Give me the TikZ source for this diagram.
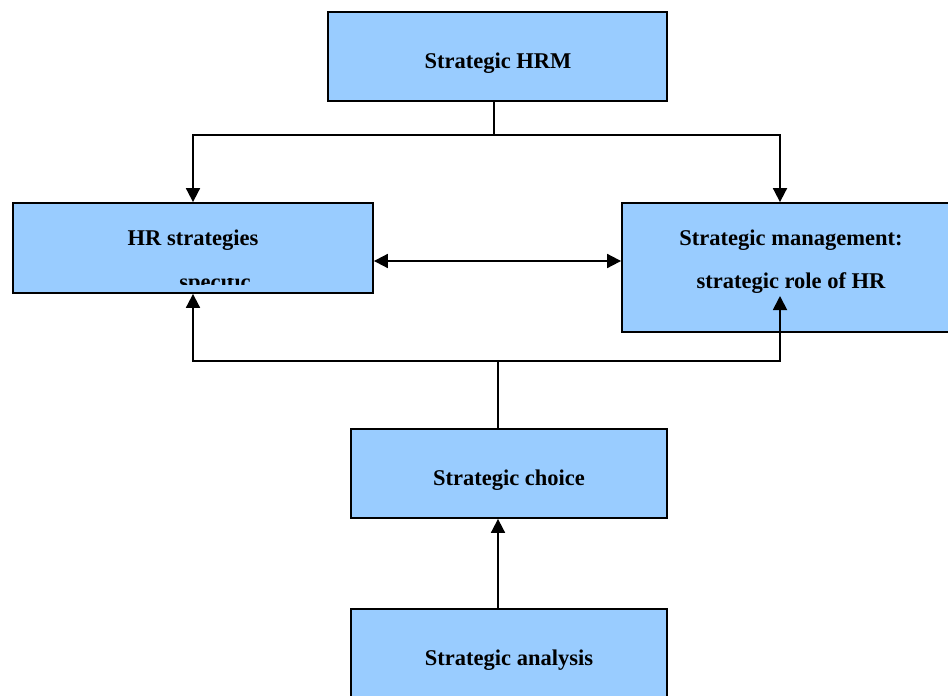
\documentclass[tikz,border=0pt]{standalone}
\usepackage{fontspec}
\setmainfont{Liberation Serif}
\usetikzlibrary{arrows.meta}
\definecolor{boxblue}{HTML}{99CCFF}
\begin{document}
\begin{tikzpicture}[x=1pt,y=-1pt,
  box/.style={draw=black, line width=1.8pt, fill=boxblue, inner sep=0pt},
  lbl/.style={anchor=base, inner sep=0pt, font=\fontsize{22.5}{27}\selectfont\bfseries},
  conn/.style={line width=1.8pt},
  arr/.style={conn, -{Triangle[length=14pt,width=14pt]}},
  darr/.style={conn, {Triangle[length=14pt,width=14pt]}-{Triangle[length=14pt,width=14pt]}}]
\useasboundingbox (0,0) rectangle (948,696);
% boxes
\node[box, minimum width=339pt, minimum height=89pt] (hrm) at (497.5,56.5) {};
\node[box, minimum width=360pt, minimum height=90pt] (hrs) at (193,248) {};
\node[box, minimum width=340pt, minimum height=129pt] (smg) at (792,267.5) {};
\node[box, minimum width=316pt, minimum height=89pt] (ch) at (509,473.5) {};
\node[box, minimum width=316pt, minimum height=101pt] (an) at (509,659.5) {};
% texts
\node[lbl] (thrm) at (498,68) {Strategic HRM};
\node[lbl] (thrs) at (193,245) {HR strategies};
\begin{scope}
  \clip (20,278) rectangle (366,284.5);
  \node[lbl] (tspec) at (215,289) {specific};
\end{scope}
\node[lbl] (tsm1) at (791,245) {Strategic management:};
\node[lbl] (tsm2) at (791,288) {strategic role of HR};
\node[lbl] (tch) at (509,485) {Strategic choice};
\node[lbl] (tan) at (509,665) {Strategic analysis};
% connectors
\coordinate (top) at (494,135);
\coordinate (bot) at (498,361);
\coordinate (mid) at (0,261);
\coordinate (smgin) at (780,296);
\draw[conn] (hrm.south -| top) -- (top);
\draw[arr] (top) -| (hrs.north);
\draw[arr] (top) -| (smg.north -| smgin);
\draw[darr] (hrs.east |- mid) -- (smg.west |- mid);
\draw[conn] (ch.north -| bot) -- (bot);
\draw[arr] (bot) -| (hrs.south);
\draw[arr] (bot) -| (smgin);
\draw[arr] (an.north -| bot) -- (ch.south -| bot);
\end{tikzpicture}
\end{document}
